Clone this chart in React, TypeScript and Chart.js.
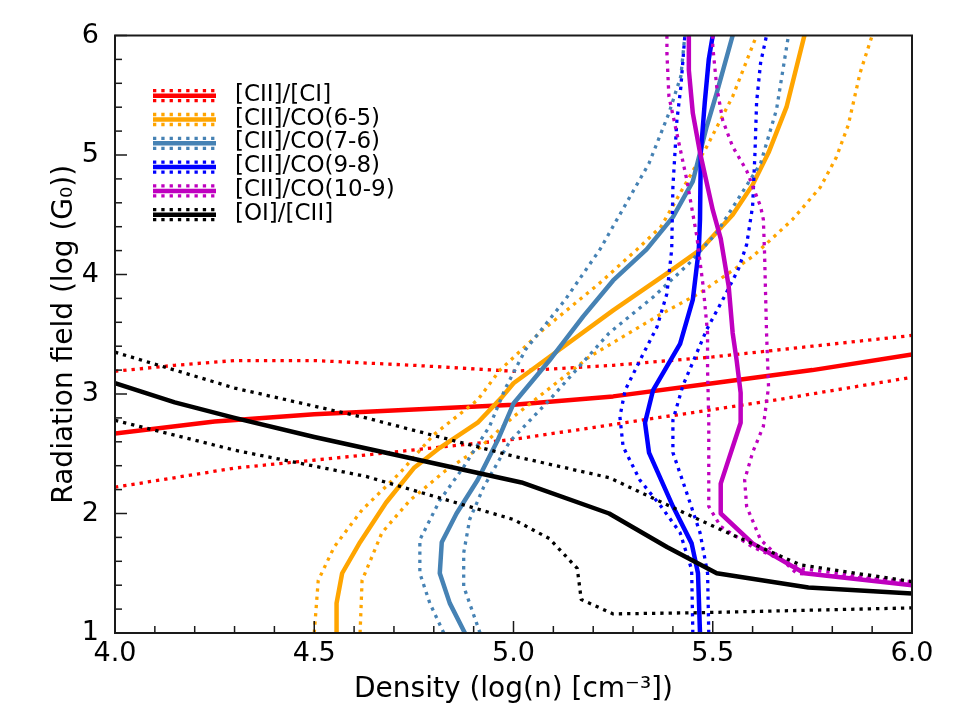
import React, { useEffect, useRef } from "react";
import { Chart, registerables } from "chart.js";

Chart.register(...registerables);

type P = [number, number];

// [CII]/[CI]
const ciiCiMid: P[] = [[4.0, 2.67], [4.25, 2.77], [4.5, 2.83], [4.75, 2.87], [5.0, 2.91], [5.25, 2.98], [5.5, 3.09], [5.75, 3.2], [6.0, 3.33]];
const ciiCiUp: P[] = [[4.0, 3.19], [4.15, 3.24], [4.3, 3.28], [4.5, 3.28], [4.75, 3.24], [5.0, 3.19], [5.25, 3.24], [5.5, 3.31], [5.75, 3.4], [6.0, 3.49]];
const ciiCiLo: P[] = [[4.0, 2.22], [4.3, 2.38], [4.63, 2.49], [5.0, 2.62], [5.3, 2.77], [5.64, 2.94], [6.0, 3.14]];

// [CII]/CO(6-5)
const co65Mid: P[] = [[4.556, 1.0], [4.556, 1.25], [4.57, 1.5], [4.615, 1.76], [4.68, 2.09], [4.75, 2.38], [4.815, 2.55], [4.91, 2.76], [4.97, 2.97], [5.0, 3.09], [5.09, 3.31], [5.25, 3.7], [5.385, 4.01], [5.47, 4.21], [5.55, 4.5], [5.6, 4.75], [5.64, 5.02], [5.685, 5.4], [5.73, 6.0]];
const co65Up: P[] = [[4.5, 1.0], [4.51, 1.44], [4.55, 1.72], [4.62, 2.03], [4.715, 2.34], [4.8, 2.66], [4.91, 2.95], [4.966, 3.2], [5.075, 3.54], [5.217, 3.93], [5.31, 4.21], [5.37, 4.4], [5.485, 5.07], [5.55, 5.49], [5.61, 6.0]];
const co65Lo: P[] = [[4.615, 1.0], [4.62, 1.44], [4.67, 1.84], [4.74, 2.11], [4.83, 2.36], [4.915, 2.55], [5.0, 2.81], [5.19, 3.31], [5.36, 3.65], [5.47, 3.85], [5.6, 4.15], [5.7, 4.46], [5.77, 4.73], [5.81, 4.98], [5.84, 5.25], [5.87, 5.69], [5.9, 6.0]];

// [CII]/CO(7-6)
const co76Mid: P[] = [[4.878, 1.0], [4.84, 1.25], [4.815, 1.5], [4.82, 1.76], [4.857, 2.0], [4.91, 2.28], [4.96, 2.61], [5.0, 2.92], [5.09, 3.28], [5.175, 3.65], [5.25, 3.95], [5.334, 4.21], [5.4, 4.48], [5.45, 4.78], [5.485, 5.24], [5.51, 5.52], [5.55, 6.0]];
const co76Up: P[] = [[4.825, 1.0], [4.79, 1.25], [4.765, 1.5], [4.765, 1.78], [4.815, 2.11], [4.875, 2.39], [4.94, 2.73], [4.98, 3.05], [5.03, 3.37], [5.13, 3.79], [5.217, 4.21], [5.34, 4.93], [5.39, 5.35], [5.42, 5.66], [5.43, 6.0]];
const co76Lo: P[] = [[4.916, 1.0], [4.875, 1.39], [4.875, 1.67], [4.89, 1.95], [4.925, 2.22], [4.99, 2.6], [5.09, 2.95], [5.24, 3.51], [5.35, 3.81], [5.44, 4.09], [5.51, 4.35], [5.62, 4.93], [5.66, 5.38], [5.69, 6.0]];

// [CII]/CO(9-8)
const co98Mid: P[] = [[5.468, 1.0], [5.463, 1.5], [5.447, 1.75], [5.4, 2.06], [5.34, 2.51], [5.33, 2.76], [5.35, 3.03], [5.418, 3.42], [5.45, 3.79], [5.465, 4.21], [5.468, 4.46], [5.47, 5.02], [5.48, 5.44], [5.49, 5.8], [5.5, 6.0]];
const co98Up: P[] = [[5.45, 1.0], [5.447, 1.53], [5.418, 1.84], [5.37, 2.06], [5.317, 2.28], [5.275, 2.56], [5.267, 2.81], [5.28, 3.03], [5.317, 3.28], [5.36, 3.56], [5.385, 3.84], [5.397, 4.21], [5.4, 4.73], [5.41, 5.29], [5.42, 5.57], [5.43, 6.0]];
const co98Lo: P[] = [[5.49, 1.0], [5.487, 1.5], [5.468, 1.84], [5.435, 2.17], [5.4, 2.51], [5.4, 2.78], [5.425, 3.07], [5.485, 3.54], [5.53, 3.82], [5.565, 4.05], [5.585, 4.25], [5.6, 4.57], [5.606, 5.02], [5.61, 5.44], [5.62, 5.77], [5.635, 6.0]];

// [CII]/CO(10-9)
const co109Mid: P[] = [[5.44, 6.0], [5.44, 5.71], [5.45, 5.35], [5.468, 5.02], [5.5, 4.54], [5.52, 4.3], [5.54, 3.9], [5.55, 3.51], [5.56, 3.28], [5.57, 3.01], [5.57, 2.76], [5.52, 2.25], [5.52, 2.0], [5.6, 1.75], [5.73, 1.5], [6.0, 1.4]];
const co109Up: P[] = [[5.385, 6.0], [5.385, 5.85], [5.39, 5.49], [5.41, 5.18], [5.435, 4.79], [5.46, 4.32], [5.476, 3.9], [5.487, 3.51], [5.487, 3.2], [5.49, 2.78], [5.49, 2.06], [5.52, 1.89], [5.6, 1.72], [5.72, 1.54], [6.0, 1.42]];
const co109Lo: P[] = [[5.5, 6.0], [5.5, 5.91], [5.51, 5.57], [5.525, 5.29], [5.55, 5.07], [5.585, 4.87], [5.62, 4.57], [5.627, 4.46], [5.63, 4.18], [5.635, 3.51], [5.64, 3.06], [5.627, 2.73], [5.6, 2.51], [5.58, 2.28], [5.585, 2.06], [5.62, 1.78], [5.71, 1.5], [6.0, 1.43]];

// [OI]/[CII]
const oiCiiMid: P[] = [[4.0, 3.09], [4.15, 2.93], [4.3, 2.8], [4.5, 2.64], [4.8, 2.42], [5.02, 2.26], [5.24, 2.0], [5.385, 1.72], [5.51, 1.5], [5.74, 1.38], [6.0, 1.33]];
const oiCiiUp: P[] = [[4.0, 3.35], [4.3, 3.05], [4.63, 2.8], [5.0, 2.48], [5.24, 2.3], [5.4, 2.05], [5.51, 1.88], [5.72, 1.57], [6.0, 1.43]];
const oiCiiLo: P[] = [[4.0, 2.78], [4.3, 2.53], [4.63, 2.31], [5.0, 1.95], [5.09, 1.79], [5.16, 1.54], [5.17, 1.28], [5.25, 1.16], [5.47, 1.17], [6.0, 1.21]];

const seriesLabels = ["[CII]/[CI]", "[CII]/CO(6-5)", "[CII]/CO(7-6)", "[CII]/CO(9-8)", "[CII]/CO(10-9)", "[OI]/[CII]"];
const seriesColors = ["#ff0000", "#ffa500", "#4682b4", "#0000ff", "#bf00bf", "#000000"];
const seriesLines: P[][][] = [
  [ciiCiMid, ciiCiUp, ciiCiLo],
  [co65Mid, co65Up, co65Lo],
  [co76Mid, co76Up, co76Lo],
  [co98Mid, co98Up, co98Lo],
  [co109Mid, co109Up, co109Lo],
  [oiCiiMid, oiCiiUp, oiCiiLo],
];

const xTicks = [4.0, 4.5, 5.0, 5.5, 6.0];
const yTicks = [1, 2, 3, 4, 5, 6];
const xMinorStep = 0.1;
const yMinorStep = 0.2;

const FONT = "'DejaVu Sans', sans-serif";
const SOLID_W = 4.5;
const DOT_W = 3.3;
const DOT_DASH = [3.3, 5];

const decorPlugin = {
  id: "decor",
  afterDatasetsDraw(chart: any) {
    const { ctx, chartArea: a, scales } = chart;
    const xs = scales.x;
    const ys = scales.y;
    ctx.save();
    ctx.strokeStyle = "#1a1a1a";
    ctx.lineWidth = 1.5;
    ctx.setLineDash([]);
    const nx = Math.round((xs.max - xs.min) / xMinorStep);
    for (let i = 0; i <= nx; i++) {
      const v = xs.min + i * xMinorStep;
      const major = xTicks.some((t) => Math.abs(t - v) < 1e-6);
      const len = major ? 12 : 7;
      const px = xs.getPixelForValue(v);
      ctx.beginPath();
      ctx.moveTo(px, a.bottom);
      ctx.lineTo(px, a.bottom - len);
      ctx.stroke();
    }
    const ny = Math.round((ys.max - ys.min) / yMinorStep);
    for (let i = 0; i <= ny; i++) {
      const v = ys.min + i * yMinorStep;
      const major = yTicks.some((t) => Math.abs(t - v) < 1e-6);
      const len = major ? 12 : 7;
      const py = ys.getPixelForValue(v);
      ctx.beginPath();
      ctx.moveTo(a.left, py);
      ctx.lineTo(a.left + len, py);
      ctx.stroke();
    }
    ctx.lineWidth = 2;
    ctx.strokeRect(a.left, a.top, a.right - a.left, a.bottom - a.top);

    // legend
    const hx0 = 153;
    const hx1 = 216;
    const tx = 235;
    const row0 = 95.7;
    const dy = 23.8;
    ctx.font = `23px ${FONT}`;
    ctx.textBaseline = "alphabetic";
    ctx.textAlign = "left";
    seriesLabels.forEach((lab, i) => {
      const y = row0 + i * dy;
      const c = seriesColors[i];
      ctx.strokeStyle = c;
      ctx.setLineDash([]);
      ctx.lineWidth = SOLID_W;
      ctx.beginPath();
      ctx.moveTo(hx0, y);
      ctx.lineTo(hx1, y);
      ctx.stroke();
      ctx.setLineDash(DOT_DASH);
      ctx.lineWidth = DOT_W;
      [-5, 5].forEach((o) => {
        ctx.beginPath();
        ctx.moveTo(hx0, y + o);
        ctx.lineTo(hx1, y + o);
        ctx.stroke();
      });
      ctx.setLineDash([]);
      ctx.fillStyle = "#000";
      ctx.fillText(lab, tx, y + 5);
    });
    ctx.restore();
  },
};

export default function App() {
  const ref = useRef<HTMLCanvasElement | null>(null);
  useEffect(() => {
    if (!ref.current) return;
    const datasets: any[] = [];
    let k = 0;
    seriesLines.forEach((group, gi) => {
      group.forEach((line, li) => {
        datasets.push({
          label: li === 0 ? seriesLabels[gi] : seriesLabels[gi] + (li === 1 ? " upper" : " lower"),
          data: line.map(([x, y]) => ({ x, y })),
          showLine: true,
          borderColor: seriesColors[gi],
          backgroundColor: seriesColors[gi],
          borderWidth: li === 0 ? SOLID_W : DOT_W,
          borderDash: li === 0 ? [] : DOT_DASH,
          borderJoinStyle: "round",
          pointRadius: 0,
          pointHoverRadius: 0,
          tension: 0,
          fill: false,
          clip: 0,
          order: -k,
        });
        k++;
      });
    });
    const chart = new Chart(ref.current, {
      type: "scatter",
      data: { datasets },
      options: {
        animation: false,
        responsive: false,
        devicePixelRatio: 1,
        events: [],
        layout: { padding: { left: 0, top: 35.5, right: 48, bottom: 0 } },
        plugins: { legend: { display: false }, tooltip: { enabled: false } },
        scales: {
          x: {
            type: "linear",
            min: 4,
            max: 6,
            grid: { display: false },
            border: { display: false },
            afterBuildTicks: (s: any) => {
              s.ticks = xTicks.map((v) => ({ value: v }));
            },
            afterFit: (s: any) => {
              s.height = 87;
            },
            ticks: {
              autoSkip: false,
              maxRotation: 0,
              padding: -3,
              color: "#000",
              font: { family: FONT, size: 27 },
              callback: (v: any) => Number(v).toFixed(1),
            },
            title: {
              display: true,
              text: "Density (log(n) [cm⁻³])",
              color: "#000",
              font: { family: FONT, size: 28 },
              padding: { top: 0, bottom: 13 },
            },
          },
          y: {
            type: "linear",
            min: 1,
            max: 6,
            grid: { display: false },
            border: { display: false },
            afterBuildTicks: (s: any) => {
              s.ticks = yTicks.map((v) => ({ value: v }));
            },
            afterFit: (s: any) => {
              s.width = 115;
            },
            ticks: {
              autoSkip: false,
              padding: 8,
              color: "#000",
              font: { family: FONT, size: 27 },
              callback: (v: any) => String(v),
            },
            title: {
              display: true,
              text: "Radiation field (log (G₀))",
              color: "#000",
              font: { family: FONT, size: 28 },
              padding: { top: 48, bottom: 0 },
            },
          },
        },
      },
      plugins: [decorPlugin],
    });
    return () => chart.destroy();
  }, []);
  return (
    <div style={{ position: "fixed", left: 0, top: 0, width: 960, height: 720, background: "#fff" }}>
      <canvas ref={ref} width={960} height={720} />
    </div>
  );
}
